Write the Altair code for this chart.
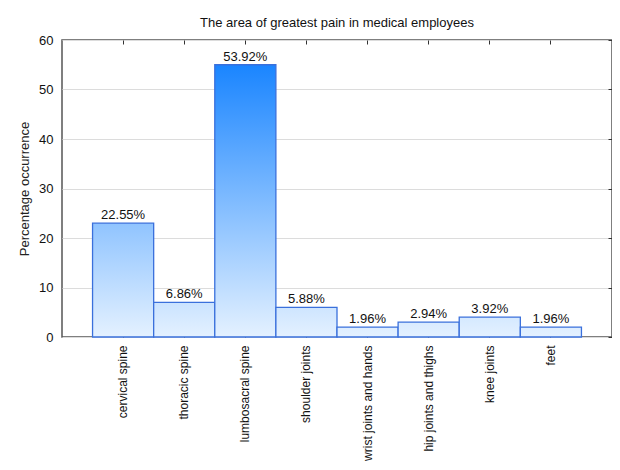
import altair as alt
import pandas as pd

categories = ["cervical spine", "thoracic spine", "lumbosacral spine", "shoulder joints",
              "wrist joints and hands", "hip joints and thighs", "knee joints", "feet"]
counts = [23, 7, 55, 6, 2, 3, 4, 2]
percents = [22.55, 6.86, 53.92, 5.88, 1.96, 2.94, 3.92, 1.96]
y_ticks = [0, 10, 20, 30, 40, 50, 60]

df = pd.DataFrame({"cat": categories, "count": counts, "pct": percents})

FONT = "Liberation Sans"
TOP_RGB = (26, 133, 255)
BOT_RGB = (228, 241, 255)
VMAX = max(counts)


def shade(v):
    t = v / VMAX
    c = [round(b + t * (a - b)) for a, b in zip(TOP_RGB, BOT_RGB)]
    return "#%02x%02x%02x" % tuple(c)


xscale = alt.Scale(domain=categories, paddingInner=0, paddingOuter=0.5)
yscale = alt.Scale(domain=[0, 60], nice=False)

x_bottom = alt.X("cat:N", scale=xscale, sort=categories, title=None,
                 axis=alt.Axis(orient="bottom", labelAngle=270, labelAlign="right",
                               labelBaseline="middle", labelFontSize=12, labelColor="#111",
                               labelFont=FONT, offset=-4, tickSize=4, tickColor="#333",
                               domain=False, labelPadding=8, grid=False))
y_left = alt.Y("count:Q", scale=yscale, title="Percentage occurrence",
               axis=alt.Axis(orient="left", values=y_ticks, ticks=False, domain=False,
                             labelFontSize=13, labelColor="#111", labelFont=FONT,
                             labelPadding=9, grid=True, gridColor="#dcdcdc",
                             titleFont=FONT, titleFontSize=13, titleFontWeight="normal",
                             titleColor="#222", titlePadding=7))

layers = []
for i, c in enumerate(categories):
    grad = alt.Gradient(gradient="linear",
                        stops=[alt.GradientStop(color=shade(counts[i]), offset=0),
                               alt.GradientStop(color=shade(0), offset=1)],
                        x1=0, x2=0, y1=0, y2=1)
    layer = alt.Chart(df).transform_filter(alt.datum.cat == c).mark_bar(
        color=grad, stroke="#3a70dc", strokeWidth=1.3
    ).encode(
        x=x_bottom if i == 0 else alt.X("cat:N", scale=xscale, sort=categories),
        y=y_left if i == 0 else alt.Y("count:Q", scale=yscale),
    )
    layers.append(layer)

labels = alt.Chart(df).transform_calculate(
    label="format(datum.pct, '.2f') + '%'"
).mark_text(dy=-8, fontSize=13, font=FONT, color="#111").encode(
    x=alt.X("cat:N", scale=xscale, sort=categories),
    y=alt.Y("count:Q", scale=yscale),
    text="label:N",
)
layers.append(labels)

frame_axes = alt.Chart(df).mark_point(opacity=0).encode(
    x=alt.X("cat:N", scale=xscale, sort=categories, title=None,
            axis=alt.Axis(orient="top", labels=False, domain=False, offset=-4,
                          tickSize=4, tickColor="#333", grid=False)),
    y=alt.Y("count:Q", scale=yscale, title=None,
            axis=alt.Axis(orient="right", labels=False, domain=False, offset=-4,
                          tickSize=4, tickColor="#333", values=y_ticks, grid=False)),
)

base = alt.layer(*layers).resolve_axis(x="shared", y="shared")

chart = alt.layer(base, frame_axes).resolve_axis(
    x="independent", y="independent"
).properties(
    width=550,
    height=297,
    title=alt.TitleParams("The area of greatest pain in medical employees",
                          font=FONT, fontSize=13, fontWeight="normal", color="#111",
                          offset=4, anchor="middle"),
    autosize=alt.AutoSizeParams(type="none"),
    padding={"left": 54, "top": 32, "right": 0, "bottom": 125},
).configure(
    background="white"
).configure_view(
    stroke="#555", strokeWidth=1.5
)

chart.save("out.html", embed_options={"renderer": "svg", "actions": False})
